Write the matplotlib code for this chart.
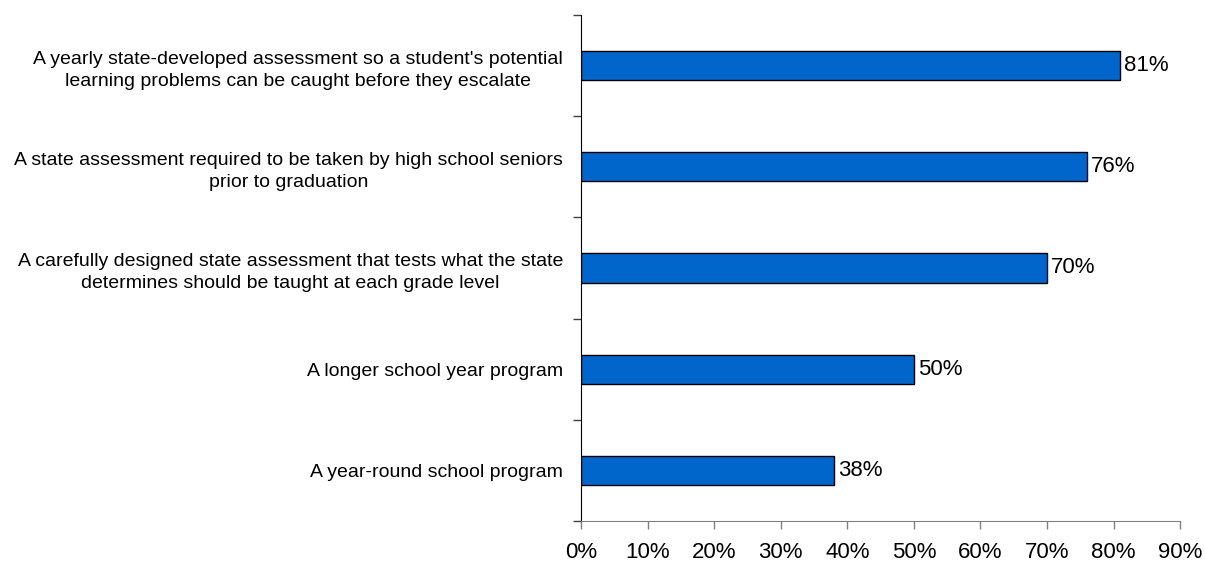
import matplotlib.pyplot as plt

# survey items, top to bottom
labels = [
    "A yearly state-developed assessment so a student's potential\nlearning problems can be caught before they escalate",
    "A state assessment required to be taken by high school seniors\nprior to graduation",
    "A carefully designed state assessment that tests what the state\ndetermines should be taught at each grade level",
    "A longer school year program",
    "A year-round school program",
]
values = [81, 76, 70, 50, 38]  # percent
x_ticks = [0, 10, 20, 30, 40, 50, 60, 70, 80, 90]

plt.rcParams['font.family'] = ['Liberation Sans', 'DejaVu Sans']

fig = plt.figure(figsize=(12.05, 5.61), dpi=100)
ax = fig.add_axes([0.4822, 0.0713, 0.4971, 0.902])

n = len(labels)
pos = [n - 1 - i for i in range(n)]  # first item at the top
ax.barh(pos, values, height=0.29, color='#0066CC', edgecolor='black', linewidth=1)

for p, v in zip(pos, values):
    ax.text(v + 0.6, p, f"{v}%", va='center', ha='left', fontsize=16)

ax.set_xlim(0, 90)
ax.set_ylim(-0.5, n - 0.5)
ax.set_xticks(x_ticks)
ax.set_xticklabels([f"{t}%" for t in x_ticks], fontsize=16)

# category labels between the minor ticks, ticks on band edges
ax.set_yticks(pos)
ax.set_yticklabels(labels, fontsize=14, multialignment='center', linespacing=1.38)
ax.tick_params(axis='y', which='major', length=0, pad=13)
ax.set_yticks([i - 0.5 for i in range(n + 1)], minor=True)
ax.tick_params(axis='y', which='minor', length=6, color='#404040', width=1)
ax.tick_params(axis='x', length=6, color='#808080', width=1, pad=9)

ax.spines['top'].set_visible(False)
ax.spines['right'].set_visible(False)
ax.spines['left'].set_color('black')
ax.spines['bottom'].set_color('#808080')

fig.savefig('out.png', dpi=100)
